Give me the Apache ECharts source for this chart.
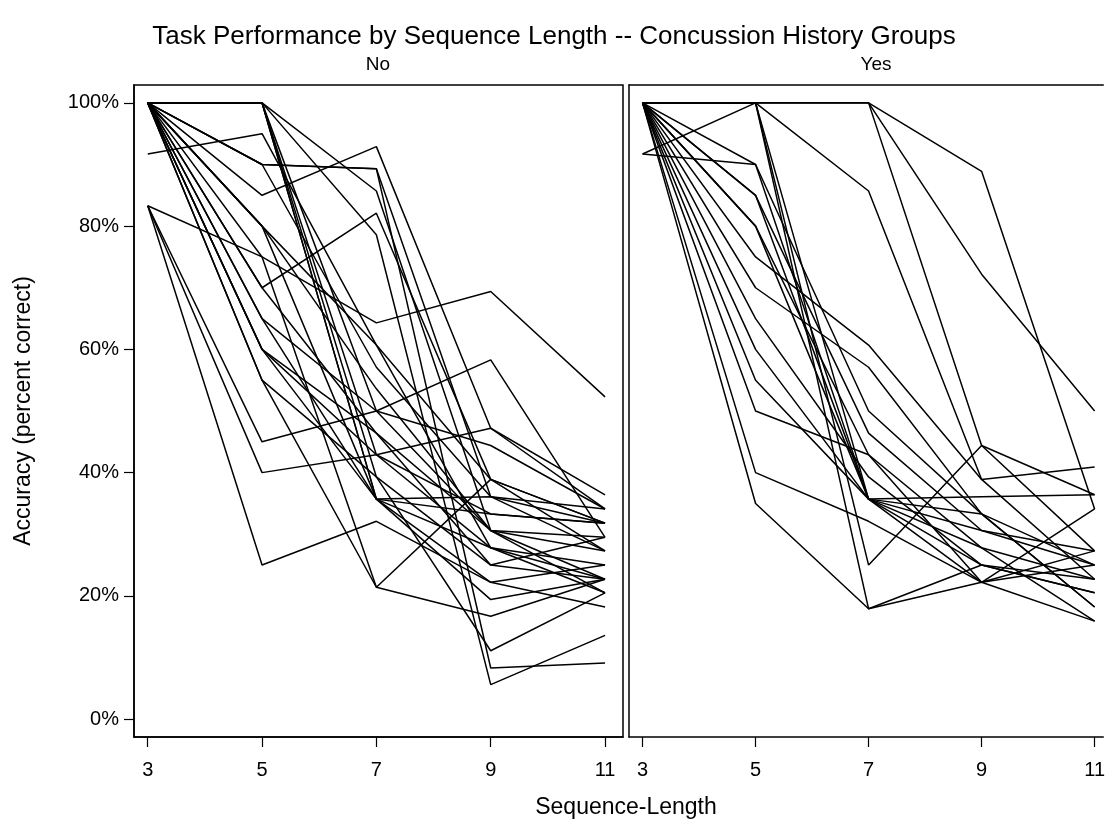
<!DOCTYPE html>
<html>
<head>
<meta charset="utf-8">
<script src="https://cdn.jsdelivr.net/npm/echarts@6/dist/echarts.min.js"></script>
<style>
    html, body { margin: 0; padding: 0; background: #fff; }
    #chart { width: 1108px; height: 826px; }
</style>
</head>
<body>
<div id="chart"></div>
<script>
// sequence lengths on the x axis
const seqLength = [3, 5, 7, 9, 11];
const yTicks = [0, 20, 40, 60, 80, 100];

// one row per participant, accuracy (%) at each sequence length
const noGroup = [
    [91.7, 95, 60.7, 27.8, 22.7],
    [83.3, 75, 64.3, 69.4, 52.3],
    [83.3, 45, 50, 58.3, 29.5],
    [83.3, 40, 42.9, 47.2, 36.4],
    [83.3, 25, 32.1, 22.2, 18.2],
    [100, 85, 92.9, 47.2, 34.1],
    [100, 90, 89.3, 36.1, 31.8],
    [100, 90, 89.3, 8.3, 9.1],
    [100, 70, 82.1, 38.9, 31.8],
    [100, 100, 85.7, 30.6, 27.3],
    [100, 100, 78.6, 5.6, 13.6],
    [100, 100, 50, 30.6, 22.7],
    [100, 100, 42.9, 27.8, 20.5],
    [100, 100, 35.7, 33.3, 31.8],
    [100, 100, 35.7, 22.2, 25],
    [100, 100, 39.3, 11.1, 20.5],
    [100, 80, 35.7, 36.1, 34.1],
    [100, 80, 53.6, 30.6, 29.5],
    [100, 80, 60.7, 38.9, 27.3],
    [100, 75, 21.4, 38.9, 31.8],
    [100, 70, 46.4, 25, 22.7],
    [100, 65, 50, 44.4, 34.1],
    [100, 65, 35.7, 27.8, 25],
    [100, 60, 46.4, 30.6, 20.5],
    [100, 60, 42.9, 33.3, 31.8],
    [100, 60, 35.7, 19.4, 22.7],
    [100, 55, 21.4, 16.7, 22.7],
    [100, 55, 39.3, 25, 29.5],
    [100, 90, 57.1, 36.1, 27.3]
];

const yesGroup = [
    [91.7, 100, 100, 88.9, 34.1],
    [100, 100, 100, 72.2, 50],
    [100, 100, 100, 44.4, 27.3],
    [100, 100, 85.7, 38.9, 40.9],
    [91.7, 90, 35.7, 36.1, 36.4],
    [100, 90, 50, 33.3, 25],
    [100, 85, 46.4, 30.6, 27.3],
    [100, 80, 42.9, 27.8, 22.7],
    [100, 75, 60.7, 38.9, 22.7],
    [100, 70, 57.1, 33.3, 18.2],
    [100, 65, 39.3, 25, 20.5],
    [100, 60, 35.7, 30.6, 25],
    [100, 55, 35.7, 27.8, 15.9],
    [100, 50, 42.9, 22.2, 27.3],
    [100, 40, 32.1, 22.2, 34.1],
    [100, 35, 17.9, 22.2, 15.9],
    [100, 100, 17.9, 25, 22.7],
    [100, 100, 25, 44.4, 36.4],
    [100, 100, 35.7, 25, 20.5],
    [100, 80, 35.7, 33.3, 18.2],
    [100, 85, 35.7, 22.2, 25]
];

const FONT = 'Liberation Sans, Arial, Helvetica, sans-serif';
const BLACK = '#000';

function makeX(gridIndex, max) {
    return {
        type: 'value',
        gridIndex: gridIndex,
        min: 2.76,
        max: max,
        axisLine: { show: true, onZero: false, lineStyle: { color: BLACK, width: 1.5 } },
        axisTick: { show: true, length: 10, customValues: seqLength, lineStyle: { color: BLACK, width: 1.2 } },
        axisLabel: { customValues: seqLength, color: BLACK, fontSize: 20, fontFamily: FONT, margin: 23 },
        splitLine: { show: false }
    };
}

// top edge of the right-hand panel (its frame runs off the page on the right)
function makeTopEdge(gridIndex, max) {
    return {
        type: 'value',
        gridIndex: gridIndex,
        position: 'top',
        min: 2.76,
        max: max,
        axisLine: { show: true, onZero: false, lineStyle: { color: BLACK, width: 1.5 } },
        axisTick: { show: false },
        axisLabel: { show: false },
        splitLine: { show: false }
    };
}

function makeY(gridIndex, withLabels) {
    return {
        type: 'value',
        gridIndex: gridIndex,
        min: -2.9,
        max: 102.9,
        name: withLabels ? 'Accuracy (percent correct)' : '',
        nameLocation: 'middle',
        nameGap: 99,
        nameTextStyle: { color: BLACK, fontSize: 23, fontFamily: FONT },
        axisLine: { show: true, onZero: false, lineStyle: { color: BLACK, width: 1.5 } },
        axisTick: { show: withLabels, length: 10, customValues: yTicks, lineStyle: { color: BLACK, width: 1.2 } },
        axisLabel: {
            show: withLabels,
            customValues: yTicks,
            formatter: function (v) { return v + '%'; },
            color: BLACK,
            fontSize: 20,
            fontFamily: FONT,
            margin: 15
        },
        splitLine: { show: false }
    };
}

function makeSeries(rows, idx, xIdx) {
    return rows.map(function (row) {
        return {
            type: 'line',
            xAxisIndex: xIdx,
            yAxisIndex: idx,
            data: seqLength.map(function (x, i) { return [x, row[i]]; }),
            symbol: 'none',
            silent: true,
            lineStyle: { color: BLACK, width: 1.5 }
        };
    });
}

const chart = echarts.init(document.getElementById('chart'));
chart.setOption({
    animation: false,
    backgroundColor: '#fff',
    title: {
        text: 'Task Performance by Sequence Length -- Concussion History Groups',
        left: 'center',
        top: 19,
        textStyle: { color: BLACK, fontSize: 26, fontWeight: 'normal', fontFamily: FONT }
    },
    grid: [
        { left: 134, top: 85, width: 489, height: 652, show: true, borderColor: BLACK, borderWidth: 1.5 },
        { left: 629, top: 85, width: 479, height: 652 }
    ],
    xAxis: [makeX(0, 11.314), makeX(1, 11.153), makeTopEdge(1, 11.153)],
    yAxis: [makeY(0, true), makeY(1, false)],
    graphic: [
        { type: 'text', x: 378, y: 65, style: { text: 'No', fill: BLACK, font: '19px ' + FONT, textAlign: 'center', textVerticalAlign: 'middle' } },
        { type: 'text', x: 876, y: 65, style: { text: 'Yes', fill: BLACK, font: '19px ' + FONT, textAlign: 'center', textVerticalAlign: 'middle' } },
        { type: 'text', x: 626, y: 808, style: { text: 'Sequence-Length', fill: BLACK, font: '23px ' + FONT, textAlign: 'center', textVerticalAlign: 'middle' } }
    ],
    series: makeSeries(noGroup, 0, 0).concat(makeSeries(yesGroup, 1, 1))
});
</script>
</body>
</html>
